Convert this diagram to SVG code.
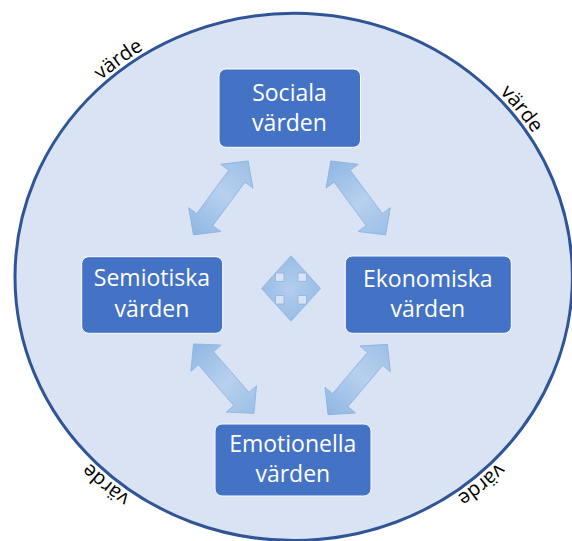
<svg xmlns="http://www.w3.org/2000/svg" xmlns:xlink="http://www.w3.org/1999/xlink" width="572" height="541" viewBox="0 0 572 541">
  <style>
    .box { fill: #4472C4; stroke: #FFFFFF; stroke-width: 1; }
    .lbl { font-family: "Open Sans", "Liberation Sans", sans-serif; font-size: 23px; fill: #FFFFFF; text-anchor: middle; }
    .vd { font-family: "Open Sans", "Liberation Sans", sans-serif; font-size: 20px; fill: #000000; text-anchor: middle; }
    .arr { fill: url(#ag); stroke: #8AB2E1; stroke-width: 0.8; }
  </style>
  <defs>
    <linearGradient id="ag" x1="0" y1="0" x2="1" y2="0">
      <stop offset="0" stop-color="#8FB7E3"/>
      <stop offset="0.55" stop-color="#B7D0EE"/>
      <stop offset="1" stop-color="#9CC0E7"/>
    </linearGradient>
    <radialGradient id="qg" cx="0.5" cy="0.5" r="0.5">
      <stop offset="0" stop-color="#B3CDED"/>
      <stop offset="1" stop-color="#98BEE6"/>
    </radialGradient>
    <path id="dbl" d="M-46,0 L-27,-20 L-27,-10 L27,-10 L27,-20 L46,0 L27,20 L27,10 L-27,10 L-27,20 Z"/>
    <path id="ring" d="M10.5,276.9 A283.2,268.1 0 1 1 576.9,276.9 A283.2,268.1 0 1 1 10.5,276.9 Z"/>
  </defs>

  <rect x="0" y="0" width="572" height="541" fill="#FFFFFF"/>

  <g id="circle">
    <ellipse cx="293.7" cy="276.9" rx="278.7" ry="263.6" fill="#DAE3F3" stroke="#2F5597" stroke-width="3"/>
    <text class="vd"><textPath xlink:href="#ring" href="#ring" startOffset="14.4%">värde</textPath></text>
    <text class="vd"><textPath xlink:href="#ring" href="#ring" startOffset="39.7%">värde</textPath></text>
    <text class="vd"><textPath xlink:href="#ring" href="#ring" startOffset="63.5%">värde</textPath></text>
    <text class="vd"><textPath xlink:href="#ring" href="#ring" startOffset="86.5%">värde</textPath></text>
  </g>

  <g id="connectors">
    <use href="#dbl" xlink:href="#dbl" class="arr" transform="translate(220.8,197.9) rotate(-53.5)"/>
    <use href="#dbl" xlink:href="#dbl" class="arr" transform="translate(358.2,197.9) rotate(53.5)"/>
    <use href="#dbl" xlink:href="#dbl" class="arr" transform="translate(223.7,378.6) rotate(49)"/>
    <use href="#dbl" xlink:href="#dbl" class="arr" transform="translate(357.7,379.5) rotate(-49.8)"/>
  </g>

  <g id="center-arrow">
    <path transform="translate(291,288.5)" fill="url(#qg)" stroke="#8AB2E1" stroke-width="0.8"
      d="M0,-32.7 L-15.5,-15.5 L-7,-15.5 L-7,-7 L-15.5,-7 L-15.5,-15.5 L-29.5,0 L-15.5,15.5 L-15.5,7 L-7,7 L-7,15.5 L-15.5,15.5 L0,32.7 L15.5,15.5 L7,15.5 L7,7 L15.5,7 L15.5,15.5 L29.5,0 L15.5,-15.5 L15.5,-7 L7,-7 L7,-15.5 L15.5,-15.5 Z"/>
  </g>

  <g id="sociala">
    <rect class="box" x="219" y="69" width="141.5" height="78.3" rx="7"/>
    <text class="lbl" x="289.5" y="100.5">Sociala</text>
    <text class="lbl" x="289.5" y="131">värden</text>
  </g>

  <g id="semiotiska">
    <rect class="box" x="81.7" y="256.7" width="141" height="76.6" rx="7"/>
    <text class="lbl" x="152" y="286">Semiotiska</text>
    <text class="lbl" x="152" y="316.7">värden</text>
  </g>

  <g id="ekonomiska">
    <rect class="box" x="345.3" y="256" width="166" height="77.3" rx="7"/>
    <text class="lbl" x="427.8" y="287">Ekonomiska</text>
    <text class="lbl" x="427.8" y="317">värden</text>
  </g>

  <g id="emotionella">
    <rect class="box" x="215" y="424" width="156" height="72" rx="7"/>
    <text class="lbl" x="292.8" y="452">Emotionella</text>
    <text class="lbl" x="292.8" y="482">värden</text>
  </g>
</svg>
